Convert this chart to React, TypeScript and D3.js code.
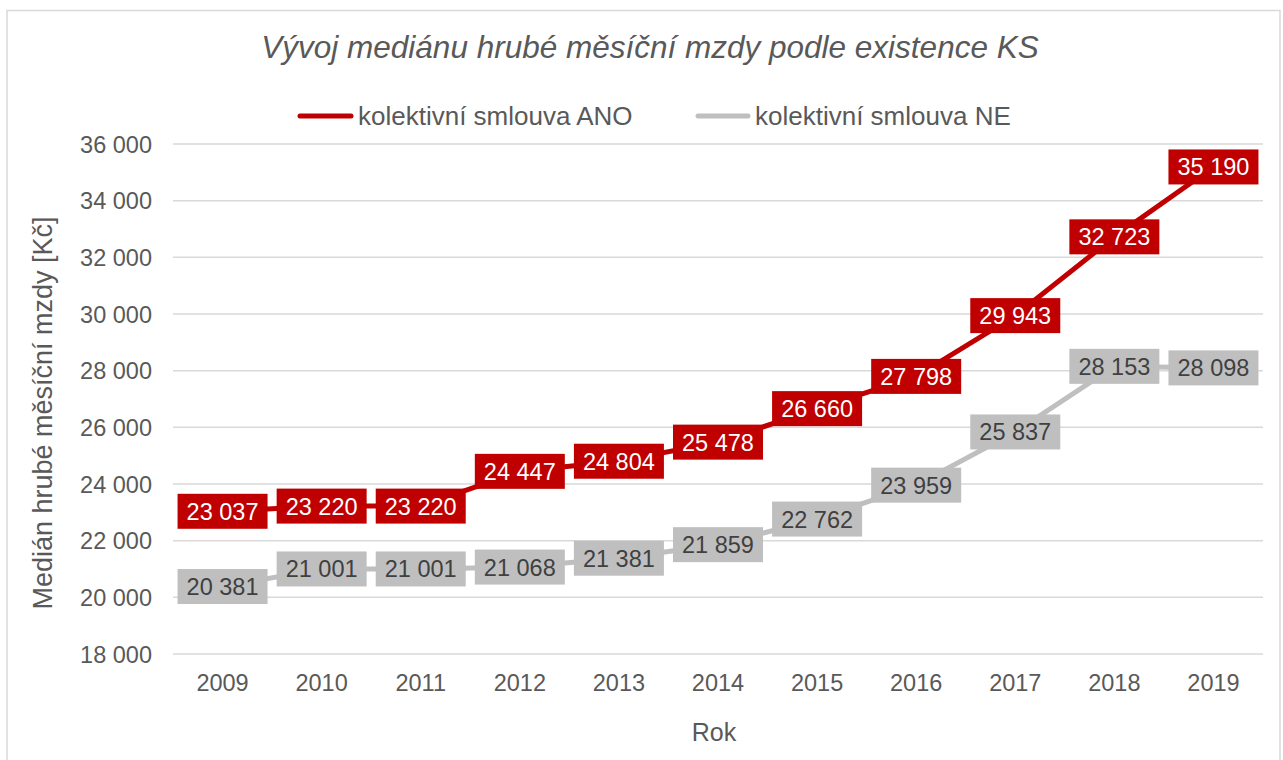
import React from "react";
import * as d3 from "d3";

const years = ["2009","2010","2011","2012","2013","2014","2015","2016","2017","2018","2019"];
const seriesAno = [23037,23220,23220,24447,24804,25478,26660,27798,29943,32723,35190];
const seriesNe = [20381,21001,21001,21068,21381,21859,22762,23959,25837,28153,28098];
const yTicks = [18000,20000,22000,24000,26000,28000,30000,32000,34000,36000];
const titleText = "Vývoj mediánu hrubé měsíční mzdy podle existence KS";
const legendAno = "kolektivní smlouva ANO";
const legendNe = "kolektivní smlouva NE";
const yTitle = "Medián hrubé měsíční mzdy [Kč]";
const xTitle = "Rok";

const W = 1283, H = 760;
const FONT = "'Liberation Sans', Arial, sans-serif";
const RED = "#C00000";
const GRAY = "#BFBFBF";
const TXT = "#595959";

const loc = d3.formatLocale({ decimal: ",", thousands: "\u00a0", grouping: [3], currency: ["", ""] });
const fmt = loc.format(",");

export default function App() {
  const x = d3.scaleBand().domain(years).range([173, 1263]);
  const y = d3.scaleLinear().domain([18000, 36000]).range([654, 144]);
  const cx = (d: string) => (x(d) as number) + x.bandwidth() / 2;
  const line = d3.line<number>().x((_, i) => cx(years[i])).y((v) => y(v));

  const boxW = 90, boxH = 35;

  const labels = (vals: number[], fill: string, color: string) =>
    vals.map((v, i) => (
      <g key={i}>
        <rect x={cx(years[i]) - boxW / 2} y={y(v) - boxH / 2} width={boxW} height={boxH} fill={fill} />
        <text x={cx(years[i])} y={y(v) + 8.5} textAnchor="middle" fontSize={23.5} fill={color} fontFamily={FONT}>
          {fmt(v)}
        </text>
      </g>
    ));

  return (
    <svg width={W} height={H} style={{ position: "absolute", left: 0, top: 0 }} fontFamily={FONT}>
      <rect x={0} y={0} width={W} height={H} fill="#fff" />
      <rect x={7} y={10.5} width={1273} height={H + 20} fill="#fff" stroke="#D9D9D9" strokeWidth={1.5} />
      <text x={650} y={58} textAnchor="middle" fontSize={31.5} fontStyle="italic" fill={TXT}>{titleText}</text>

      <line x1={300} x2={351} y1={116} y2={116} stroke={RED} strokeWidth={5} strokeLinecap="round" />
      <text x={358} y={125} fontSize={26} fill={TXT}>{legendAno}</text>
      <line x1={698} x2={748} y1={116} y2={116} stroke={GRAY} strokeWidth={5} strokeLinecap="round" />
      <text x={755} y={125} fontSize={26} fill={TXT}>{legendNe}</text>

      {yTicks.map((t) => (
        <g key={t}>
          <line x1={173} x2={1263} y1={y(t)} y2={y(t)} stroke="#D9D9D9" strokeWidth={1.5} />
          <text x={152} y={y(t) + 8.5} textAnchor="end" fontSize={23.5} fill={TXT}>{fmt(t)}</text>
        </g>
      ))}
      {years.map((yr) => (
        <text key={yr} x={cx(yr)} y={691} textAnchor="middle" fontSize={23.5} fill={TXT}>{yr}</text>
      ))}
      <text x={714} y={741} textAnchor="middle" fontSize={25} fill={TXT}>{xTitle}</text>
      <text transform="translate(52,413) rotate(-90)" textAnchor="middle" fontSize={27} fill={TXT}>{yTitle}</text>

      <path d={line(seriesNe) || ""} fill="none" stroke={GRAY} strokeWidth={5} strokeLinejoin="round" />
      <path d={line(seriesAno) || ""} fill="none" stroke={RED} strokeWidth={5} strokeLinejoin="round" />
      {labels(seriesNe, GRAY, "#404040")}
      {labels(seriesAno, RED, "#FFFFFF")}
    </svg>
  );
}
